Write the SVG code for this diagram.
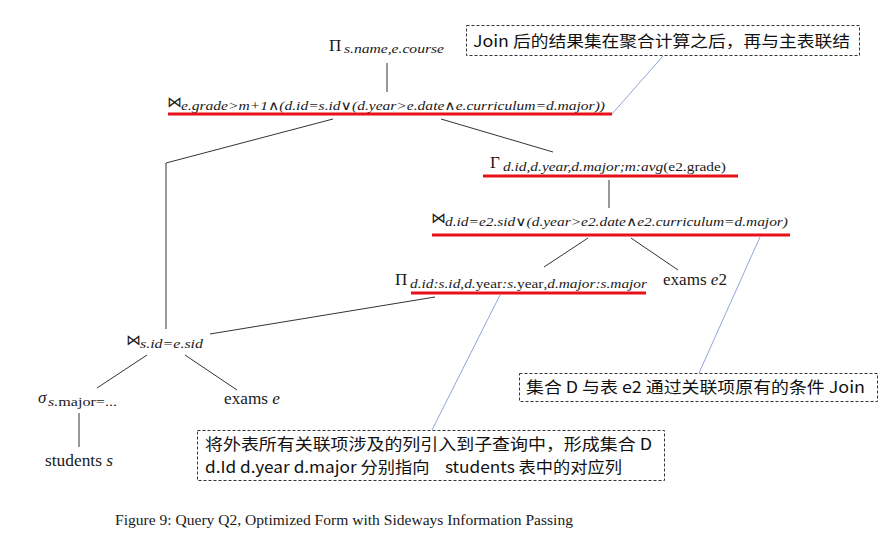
<svg xmlns="http://www.w3.org/2000/svg" width="880" height="540" viewBox="0 0 880 540">
<style>
.bg{fill:#fff}
.m{font-family:"Liberation Serif","DejaVu Serif",serif;fill:#1a1a1a}
.op{font-size:17px}
.sub{font-size:13px;font-style:italic}
.up{font-style:normal}
.j{font-family:"DejaVu Sans",sans-serif;font-size:15px;fill:#1a1a1a}
.rm{font-family:"Liberation Serif",serif;font-size:16px;fill:#1a1a1a}
.it{font-style:italic}
.edge{stroke:#333;stroke-width:1;fill:none}
.red{stroke:#e8101a;stroke-width:3;fill:none}
.note{stroke:#8fa6dc;stroke-width:1;fill:none}
.box{fill:#fff;stroke:#333;stroke-width:1;stroke-dasharray:3 2}
.cn{font-family:"Noto Sans CJK SC","Noto Sans",sans-serif;font-size:16px;fill:#111}
.cap{font-family:"Liberation Serif",serif;font-size:15px;fill:#1a1a1a}
</style>
<rect class="bg" x="0" y="0" width="880" height="540"/>

<g id="connectors">
<line class="edge" x1="387" y1="63" x2="387" y2="92"/>
<polyline class="edge" points="333,119 166,163 166,329"/>
<line class="edge" x1="441" y1="119" x2="553" y2="152"/>
<line class="edge" x1="609" y1="180" x2="609" y2="208"/>
<line class="edge" x1="588" y1="238" x2="544" y2="267"/>
<line class="edge" x1="631" y1="238" x2="678" y2="270"/>
<line class="edge" x1="435" y1="297" x2="210" y2="334"/>
<line class="edge" x1="147" y1="355" x2="97" y2="388"/>
<line class="edge" x1="185" y1="355" x2="237" y2="390"/>
<line class="edge" x1="79" y1="413" x2="79" y2="447"/>
<line class="note" x1="663" y1="56" x2="612" y2="114"/>
<line class="note" x1="760" y1="237" x2="699" y2="373"/>
<line class="note" x1="500" y1="295" x2="432" y2="430"/>
</g>

<g id="proj-top">
<text class="m op" x="329" y="51">Π</text>
<text class="m sub" x="344" y="53" textLength="100" lengthAdjust="spacingAndGlyphs">s.name,e.course</text>
</g>

<g id="join-top">
<text class="j" x="167" y="107">⋈</text>
<text class="m sub" x="181" y="110" textLength="424" lengthAdjust="spacingAndGlyphs">e.grade&gt;m+1∧(d.id=s.id∨(d.year&gt;e.date∧e.curriculum=d.major))</text>
<line class="red" x1="168" y1="114" x2="612" y2="114"/>
</g>

<g id="gamma">
<text class="m op" x="490" y="168">Γ</text>
<text class="m sub" x="503" y="171" textLength="223" lengthAdjust="spacingAndGlyphs">d.id,d.year,d.major;m:avg<tspan class="up">(e2.grade)</tspan></text>
<line class="red" x1="483" y1="176" x2="738" y2="176"/>
</g>

<g id="join-e2">
<text class="j" x="431" y="223">⋈</text>
<text class="m sub" x="445" y="226" textLength="343" lengthAdjust="spacingAndGlyphs">d.id=e2.sid∨(d.year&gt;e2.date∧e2.curriculum=d.major)</text>
<line class="red" x1="432" y1="235" x2="790" y2="235"/>
</g>

<g id="proj-d">
<text class="m op" x="395" y="285">Π</text>
<text class="m sub" x="410" y="288" textLength="237" lengthAdjust="spacingAndGlyphs">d.id:s.id,d.<tspan class="up">year</tspan>:s.<tspan class="up">year</tspan>,d.major:s.major</text>
<line class="red" x1="411" y1="293" x2="646" y2="293"/>
</g>

<g id="exams-e2">
<text class="rm" x="663" y="285" textLength="64" lengthAdjust="spacingAndGlyphs">exams <tspan class="it">e</tspan>2</text>
</g>

<g id="join-s">
<text class="j" x="126" y="345">⋈</text>
<text class="m sub" x="140" y="348" textLength="63" lengthAdjust="spacingAndGlyphs">s.id=e.sid</text>
</g>

<g id="sigma">
<text class="m op it" x="38" y="403">σ</text>
<text class="m sub" x="48" y="406" textLength="69" lengthAdjust="spacingAndGlyphs">s.<tspan class="up">major=...</tspan></text>
</g>

<g id="exams-e">
<text class="rm" x="224" y="404" textLength="56" lengthAdjust="spacingAndGlyphs">exams <tspan class="it">e</tspan></text>
</g>

<g id="students">
<text class="rm" x="45" y="466" textLength="68" lengthAdjust="spacingAndGlyphs">students <tspan class="it">s</tspan></text>
</g>

<g id="note1">
<rect class="box" x="466.5" y="25.5" width="393" height="30"/>
<text class="cn" x="473" y="47" textLength="377" lengthAdjust="spacingAndGlyphs">Join 后的结果集在聚合计算之后，再与主表联结</text>
</g>

<g id="note2">
<rect class="box" x="519.5" y="373.5" width="358" height="28"/>
<text class="cn" x="526" y="393" textLength="339" lengthAdjust="spacingAndGlyphs">集合 D 与表 e2 通过关联项原有的条件 Join</text>
</g>

<g id="note3">
<rect class="box" x="197.5" y="430.5" width="467" height="50"/>
<text class="cn" x="205" y="450" textLength="447" lengthAdjust="spacingAndGlyphs">将外表所有关联项涉及的列引入到子查询中，形成集合 D</text>
<text class="cn" x="205" y="473" textLength="417" lengthAdjust="spacingAndGlyphs" xml:space="preserve">d.Id d.year d.major 分别指向    students 表中的对应列</text>
</g>

<g id="caption">
<text class="cap" x="115" y="525" textLength="458" lengthAdjust="spacingAndGlyphs">Figure 9: Query Q2, Optimized Form with Sideways Information Passing</text>
</g>
</svg>
